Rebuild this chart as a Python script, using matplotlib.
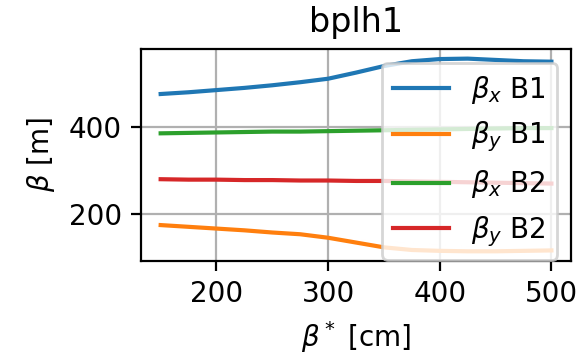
import numpy as np
import matplotlib
matplotlib.use("Agg")
import matplotlib.pyplot as plt

# beta* scan values [cm]
betastar = [150, 175, 200, 225, 250, 275, 300, 325, 350, 375, 400, 425, 450, 475, 500]

# beta functions at bplh1 [m]
betx_b1 = [475, 479, 484, 489, 495, 502, 510, 524, 539, 550, 555, 556, 553, 550, 549]
bety_b1 = [175, 171, 167, 163, 158, 154, 146, 135, 124, 118, 116, 115, 115, 116, 117]
betx_b2 = [385, 386, 387, 388, 389, 389, 390, 391, 392, 393, 394, 395, 396, 397, 397]
bety_b2 = [280, 279, 279, 278, 278, 277, 277, 276, 276, 275, 274, 273, 272, 271, 270]

fig, ax = plt.subplots(figsize=(2.94, 1.775), dpi=200)
fig.subplots_adjust(left=0.240, right=0.971, top=0.862, bottom=0.265)

ax.plot(betastar, betx_b1, label=r"$\beta_x$ B1")
ax.plot(betastar, bety_b1, label=r"$\beta_y$ B1")
ax.plot(betastar, betx_b2, label=r"$\beta_x$ B2")
ax.plot(betastar, bety_b2, label=r"$\beta_y$ B2")

ax.set_title("bplh1")
ax.set_xlabel(r"$\beta^*$ [cm]")
ax.set_ylabel(r"$\beta$ [m]")
ax.grid(True)
ax.legend(loc="upper right")

fig.savefig("out.png", dpi=200)
